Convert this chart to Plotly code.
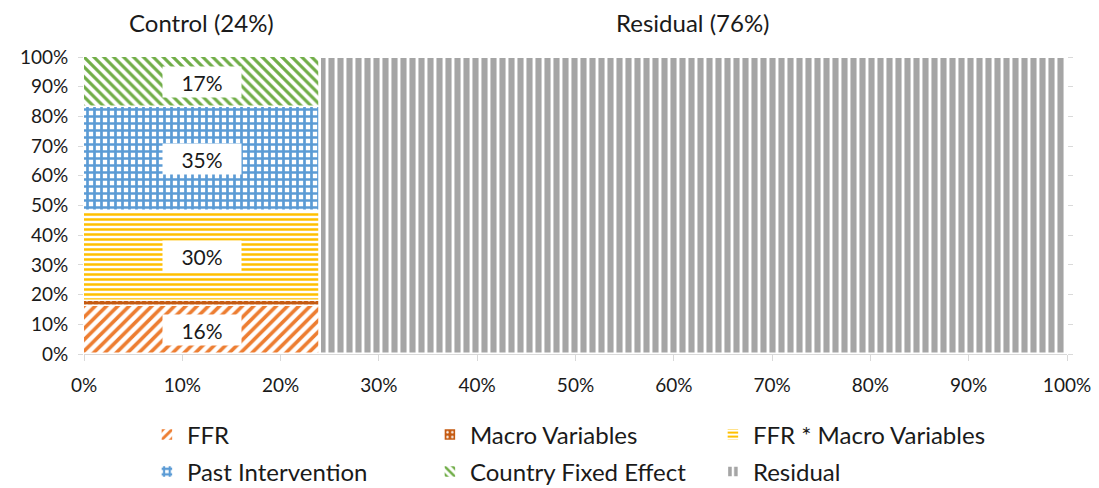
import plotly.graph_objects as go

# Data
group_names = ["Control", "Residual"]
group_widths = [24, 76]          # % of total (x axis)
control_components = ["FFR", "Macro Variables", "FFR * Macro Variables",
                      "Past Intervention", "Country Fixed Effect"]
control_shares = [16, 2, 30, 35, 17]   # % within Control column
label_components = ["FFR", "FFR * Macro Variables", "Past Intervention", "Country Fixed Effect"]
residual_share = [100]
x_ticks = [0, 10, 20, 30, 40, 50, 60, 70, 80, 90, 100]
y_ticks = [0, 10, 20, 30, 40, 50, 60, 70, 80, 90, 100]

styles = {
    "FFR": dict(color="white", fg="#ED7D31", shape="/", size=8, solidity=0.45),
    "Macro Variables": dict(color="#C55A11", fg="white", shape=".", size=6, solidity=0.2),
    "FFR * Macro Variables": dict(color="white", fg="#FFC000", shape="-", size=5, solidity=0.5),
    "Past Intervention": dict(color="white", fg="#5B9BD5", shape="+", size=7, solidity=0.62),
    "Country Fixed Effect": dict(color="white", fg="#70AD47", shape="\\", size=7, solidity=0.45),
    "Residual": dict(color="white", fg="#A5A5A5", shape="|", size=9, solidity=0.68),
}
row1 = ["FFR", "Macro Variables", "FFR * Macro Variables"]

FONT = "Lato"
TXT = "#1a1a1a"
fig = go.Figure()

ctrl_w = group_widths[0]
res_w = group_widths[1]
ctrl_center = ctrl_w / 2
res_center = ctrl_w + res_w / 2

base = 0
for name, val in zip(control_components, control_shares):
    s = styles[name]
    fig.add_trace(go.Bar(
        x=[ctrl_center], y=[val], base=[base], width=[ctrl_w],
        name=name, legend="legend" if name in row1 else "legend2",
        marker=dict(color=s["color"],
                    line=dict(color="white", width=1.5),
                    pattern=dict(shape=s["shape"], fgcolor=s["fg"], bgcolor=s["color"],
                                 size=s["size"], solidity=s["solidity"], fillmode="replace")),
        hoverinfo="skip",
    ))
    if name in label_components:
        fig.add_annotation(x=ctrl_center, y=base + val / 2, xref="x", yref="y",
                           text=f"{val}%", showarrow=False, bgcolor="white",
                           width=76, height=28, font=dict(family=FONT, size=21, color=TXT))
    base += val

s = styles["Residual"]
fig.add_trace(go.Bar(
    x=[res_center], y=residual_share, base=[0], width=[res_w],
    name="Residual", legend="legend2",
    marker=dict(color=s["color"],
                line=dict(color="white", width=2.5),
                pattern=dict(shape=s["shape"], fgcolor=s["fg"], bgcolor=s["color"],
                             size=s["size"], solidity=s["solidity"], fillmode="replace")),
    hoverinfo="skip",
))

for gname, gw, cx in zip(group_names, group_widths, [ctrl_center, res_center]):
    fig.add_annotation(x=cx, y=1.0, xref="x", yref="paper", yshift=35, yanchor="middle",
                       text=f"{gname} ({gw}%)", showarrow=False,
                       font=dict(family=FONT, size=24, color=TXT))

leg_common = dict(orientation="h", xanchor="left", yanchor="middle",
                  entrywidth=238, entrywidthmode="pixels", traceorder="normal",
                  font=dict(family=FONT, size=24, color=TXT),
                  itemwidth=30, bgcolor="rgba(0,0,0,0)")

fig.update_layout(
    width=1091, height=480,
    margin=dict(l=76, r=32, t=49, b=134, autoexpand=False),
    plot_bgcolor="white", paper_bgcolor="white",
    barmode="overlay", bargap=0,
    showlegend=True,
    legend=dict(x=0.064, y=-(435 - 354) / 297, **leg_common),
    legend2=dict(x=0.064, y=-(472 - 354) / 297, **leg_common),
    font=dict(family=FONT, color=TXT),
)
fig.update_xaxes(range=[0, 100], tickvals=x_ticks, ticktext=[f"{t}%" for t in x_ticks],
                 showgrid=False, zeroline=False, showline=True, linecolor="#D9D9D9",
                 ticks="outside", ticklen=6, tickcolor="#D9D9D9", ticklabelstandoff=8,
                 tickfont=dict(family=FONT, size=19, color=TXT), fixedrange=True)
fig.update_yaxes(range=[0, 100], tickvals=y_ticks, ticktext=[f"{t}%" for t in y_ticks],
                 showgrid=False, zeroline=False, showline=False, mirror="ticks",
                 ticks="outside", ticklen=5, tickcolor="#D9D9D9", ticklabelstandoff=6,
                 tickfont=dict(family=FONT, size=19, color=TXT), fixedrange=True)

fig.write_html("out.html")
